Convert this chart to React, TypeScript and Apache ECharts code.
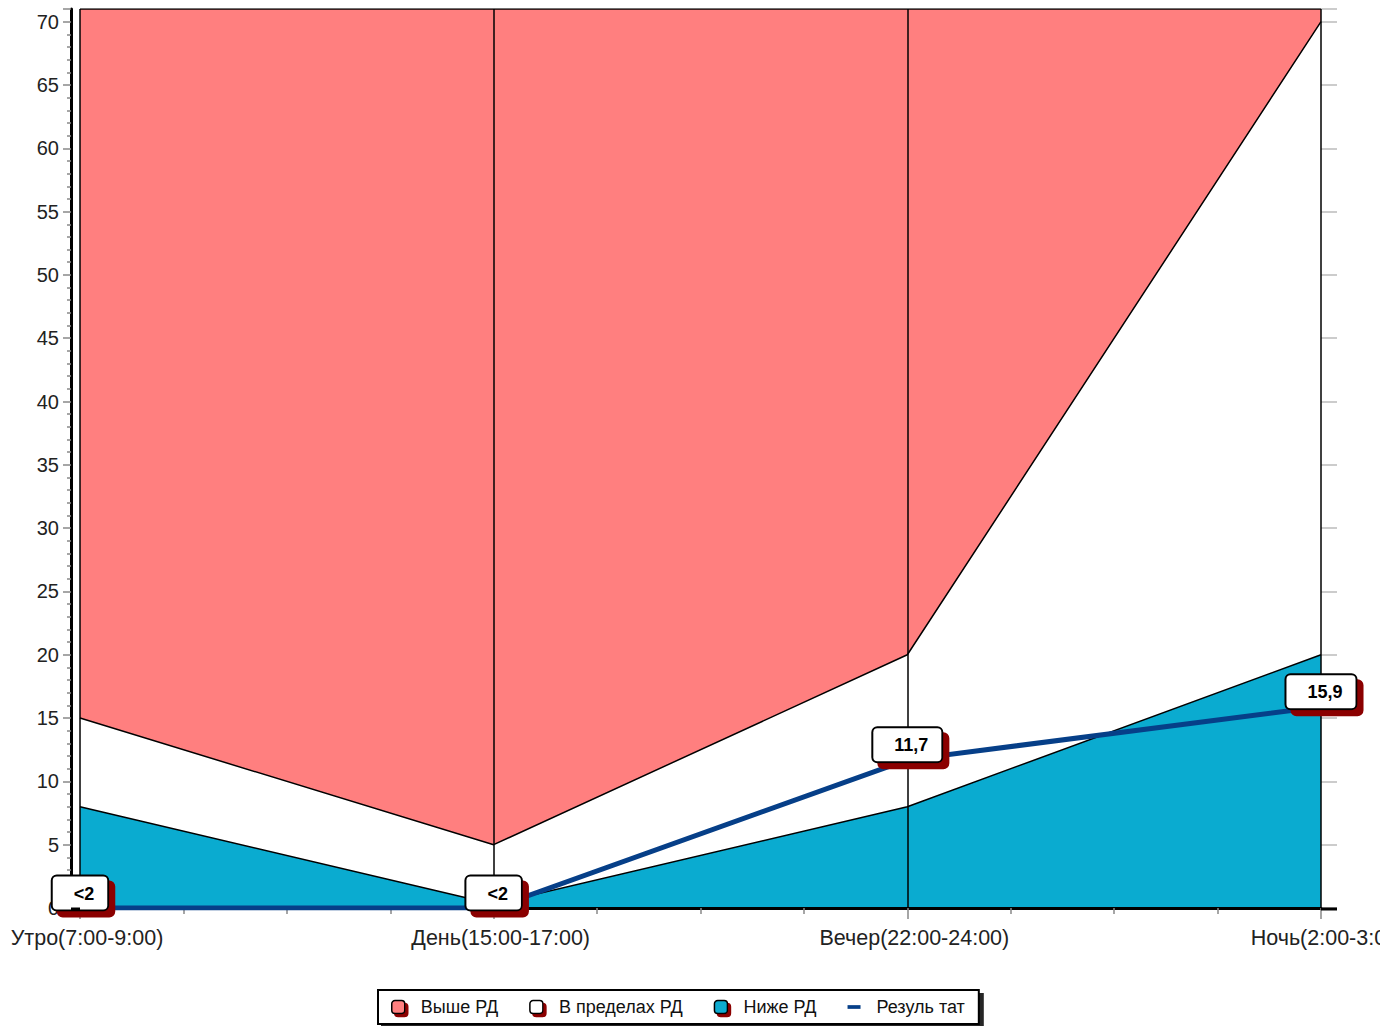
import React, { useEffect, useRef } from "react";
import * as echarts from "echarts";

const categories = ["Утро(7:00-9:00)", "День(15:00-17:00)", "Вечер(22:00-24:00)", "Ночь(2:00-3:00)"];
const lowerLimit = [8, 0.3, 8, 20];
const upperLimit = [15, 5, 20, 70];
const axisMax = 71;
const resultValues = [0, 0, 11.7, 15.9];
const resultLabels = ["<2", "<2", "11,7", "15,9"];
const seriesNames = ["Выше РД", "В пределах РД", "Ниже РД", "Резуль тат"];

const FONT = "'Liberation Sans', Arial, sans-serif";

export default function App() {
  const ref = useRef<HTMLDivElement>(null);
  useEffect(() => {
    if (!ref.current) return;
    const chart = echarts.init(ref.current, undefined, { renderer: "svg" });
    const inRange = upperLimit.map((u, i) => +(u - lowerLimit[i]).toFixed(2));
    const above = upperLimit.map((u) => +(axisMax - u).toFixed(2));
    const borderLine = { color: "#000", width: 1.5 };
    chart.setOption({
      animation: false,
      backgroundColor: "#fff",
      textStyle: { fontFamily: FONT },
      grid: { left: 80, right: 59, top: 9, bottom: 118, containLabel: false, outerBoundsMode: "none" },
      legend: {
        bottom: 2,
        left: 378,
        orient: "horizontal",
        backgroundColor: "#fff",
        borderColor: "#000",
        borderWidth: 2,
        borderRadius: 0,
        padding: [8, 14, 8, 13],
        shadowColor: "rgba(0,0,0,0.85)",
        shadowBlur: 0,
        shadowOffsetX: 4,
        shadowOffsetY: 4,
        itemGap: 31,
        itemWidth: 13,
        itemHeight: 13,
        textStyle: { fontSize: 18, color: "#111", fontFamily: FONT, padding: [0, 0, 0, 11] },
        itemStyle: {
          borderColor: "#000",
          borderWidth: 1.5,
          shadowColor: "#8b0000",
          shadowBlur: 0,
          shadowOffsetX: 3,
          shadowOffsetY: 3,
        },
        data: [
          { name: seriesNames[0], icon: "roundRect" },
          { name: seriesNames[1], icon: "roundRect" },
          { name: seriesNames[2], icon: "roundRect" },
          {
            name: seriesNames[3],
            icon: "path://M0,0h14v4h-14z",
            itemStyle: { borderWidth: 0, shadowColor: "transparent", shadowOffsetX: 0, shadowOffsetY: 0 },
          },
        ],
      },
      xAxis: [
        {
          type: "category",
          data: categories,
          boundaryGap: false,
          z: 3,
          axisLine: { show: true, onZero: false, lineStyle: { color: "#000", width: 3 } },
          axisTick: { show: true, length: 11, lineStyle: { color: "#888", width: 1.5 } },
          axisLabel: { fontSize: 21.5, color: "#222", margin: 19, fontFamily: FONT, padding: [0, 0, 0, 14] },
          splitLine: { show: true, lineStyle: { color: "#000", width: 1.5 } },
        },
        {
          type: "value",
          min: 0,
          max: 3,
          interval: 1,
          position: "bottom",
          z: 3,
          axisLine: { show: false, onZero: false },
          axisTick: { show: false },
          axisLabel: { show: false },
          splitLine: { show: false },
          minorTick: { show: true, splitNumber: 4, length: 6, lineStyle: { color: "#888", width: 1.5 } },
        },
      ],
      yAxis: [
        {
          type: "value",
          min: 0,
          max: axisMax,
          interval: 5,
          offset: 9,
          position: "left",
          z: 4,
          axisLine: { show: true, onZero: false, lineStyle: { color: "#000", width: 3 } },
          axisTick: { show: true, length: 8, lineStyle: { color: "#888", width: 1.5 } },
          minorTick: { show: true, splitNumber: 5, length: 4, lineStyle: { color: "#888", width: 1.5 } },
          axisLabel: { fontSize: 20, color: "#222", margin: 12, fontFamily: FONT, showMaxLabel: false },
          splitLine: { show: false },
        },
        {
          type: "value",
          min: 0,
          max: axisMax,
          interval: 5,
          position: "right",
          axisLine: { show: false, onZero: false },
          axisTick: { show: true, inside: false, length: 16, lineStyle: { color: "#bbb", width: 1.5 } },
          axisLabel: { show: false },
          splitLine: { show: false },
        },
      ],
      series: [
        {
          name: seriesNames[2],
          type: "line",
          stack: "band",
          data: lowerLimit,
          symbol: "none",
          color: "#0aabd0",
          lineStyle: borderLine,
          areaStyle: { color: "#0aabd0", opacity: 1 },
          z: 2,
        },
        {
          name: seriesNames[1],
          type: "line",
          stack: "band",
          data: inRange,
          symbol: "none",
          color: "#ffffff",
          lineStyle: borderLine,
          areaStyle: { color: "#ffffff", opacity: 1 },
          z: 2,
        },
        {
          name: seriesNames[0],
          type: "line",
          stack: "band",
          data: above,
          symbol: "none",
          color: "#ff7f7f",
          lineStyle: borderLine,
          areaStyle: { color: "#ff7f7f", opacity: 1 },
          z: 2,
        },
        {
          name: seriesNames[3],
          type: "line",
          data: resultValues,
          color: "#063f88",
          symbol: "circle",
          symbolSize: 1,
          showSymbol: true,
          lineStyle: { color: "#063f88", width: 5 },
          z: 6,
          label: {
            show: true,
            position: "top",
            distance: -2,
            formatter: (p: any) => resultLabels[p.dataIndex],
            fontSize: 18,
            fontWeight: "bold",
            color: "#000",
            fontFamily: FONT,
            backgroundColor: "#fff",
            borderColor: "#000",
            borderWidth: 2,
            borderRadius: 4,
            padding: [7, 13, 6, 21],
            lineHeight: 20,
            shadowColor: "#8b0000",
            shadowBlur: 0,
            shadowOffsetX: 6,
            shadowOffsetY: 6,
          },
        },
      ],
      graphic: [
        { type: "line", z: 10, shape: { x1: 1321, y1: 909, x2: 1337, y2: 909 }, style: { stroke: "#000", lineWidth: 3 } },
        { type: "line", z: 10, shape: { x1: 71, y1: 909, x2: 80, y2: 909 }, style: { stroke: "#000", lineWidth: 3 } },
      ],
    });
    return () => chart.dispose();
  }, []);
  return (
    <div
      ref={ref}
      style={{ position: "absolute", left: 0, top: 0, width: 1380, height: 1026 }}
    />
  );
}
